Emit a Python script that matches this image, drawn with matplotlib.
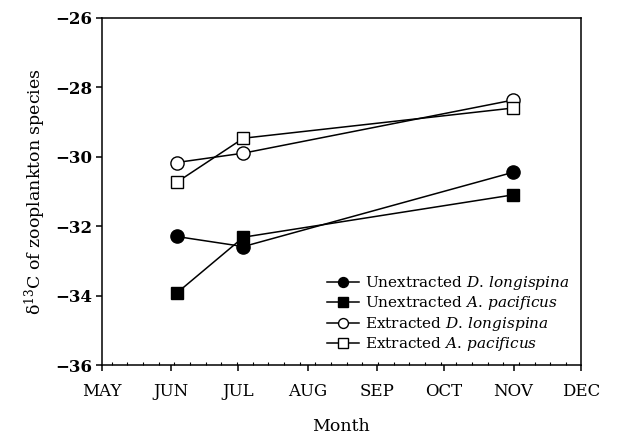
import numpy as np
import matplotlib
matplotlib.use("Agg")
import matplotlib.pyplot as plt

# days counted from 1 May
months = ['MAY', 'JUN', 'JUL', 'AUG', 'SEP', 'OCT', 'NOV', 'DEC']
month_start = [0, 31, 61, 92, 123, 153, 184, 214]

days = [33.5, 63.3, 183.9]

unext_dl = [-32.30, -32.59, -30.45]
unext_ap = [-33.93, -32.32, -31.10]
ext_dl = [-30.17, -29.90, -28.37]
ext_ap = [-30.74, -29.47, -28.60]

plt.rcParams['font.family'] = 'DejaVu Serif'
plt.rcParams['mathtext.fontset'] = 'dejavuserif'

fig = plt.figure(figsize=(6.25, 4.43), dpi=100)
ax = fig.add_axes([101.7/625, 1-365/443, 479/625, 347.3/443])

ax.plot(days, unext_dl, '-o', color='black', mfc='black', ms=9.5, lw=1.1,
        label=r'Unextracted $\mathit{D.\,longispina}$')
ax.plot(days, unext_ap, '-s', color='black', mfc='black', ms=8.8, lw=1.1,
        label=r'Unextracted $\mathit{A.\,pacificus}$')
ax.plot(days, ext_dl, '-o', color='black', mfc='white', ms=9.5, lw=1.1,
        label=r'Extracted $\mathit{D.\,longispina}$')
ax.plot(days, ext_ap, '-s', color='black', mfc='white', ms=8.8, lw=1.1,
        label=r'Extracted $\mathit{A.\,pacificus}$')

ax.set_xlim(0, 214)
ax.set_ylim(-36, -26)
ax.set_xticks(month_start)
ax.set_xticklabels(months)
ax.set_xticks(np.arange(4.5, 214, 7), minor=True)
ax.set_yticks(np.arange(-36, -25, 2))
ax.set_yticklabels([f'\u2212{abs(v)}' for v in range(-36, -25, 2)])

ax.tick_params(axis='x', which='major', direction='out', length=4, width=1.1,
               pad=9, labelsize=12)
ax.tick_params(axis='x', which='minor', direction='in', length=2.5, width=0.8)
ax.tick_params(axis='y', which='major', direction='out', length=4, width=1.1,
               pad=3, labelsize=12)
for lab in ax.get_yticklabels():
    lab.set_fontweight('bold')
for s in ax.spines.values():
    s.set_linewidth(1.1)

ax.set_xlabel('Month', fontsize=12.5, labelpad=13)
ax.set_ylabel('\u03b4$^{13}$C of zooplankton species', fontsize=12.5, labelpad=5)

ax.legend(loc='upper left', bbox_to_anchor=(0.47, 0.262), frameon=False,
          fontsize=11, borderpad=0, handlelength=2.1, handletextpad=0.4,
          labelspacing=0.16, markerscale=0.75, borderaxespad=0)

fig.savefig('out.png', dpi=100)
